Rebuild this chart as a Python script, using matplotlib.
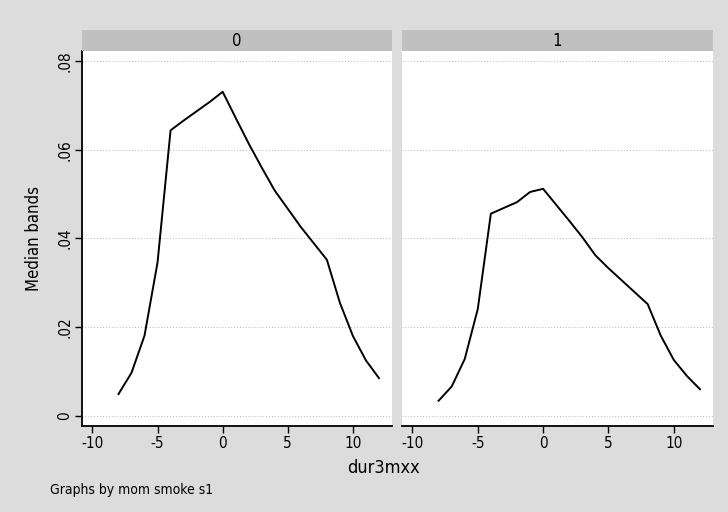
import matplotlib
matplotlib.use("Agg")
import matplotlib.pyplot as plt
from matplotlib.ticker import FuncFormatter

plt.rcParams['font.family'] = ['DejaVu Sans']
plt.rcParams['font.stretch'] = 'condensed'
plt.rcParams['axes.unicode_minus'] = False

x = [-8, -7, -6, -5, -4, -3, -2, -1, 0, 1, 2, 3, 4, 5, 6, 7, 8, 9, 10, 11, 12]
band0 = [0.0049, 0.0097, 0.0181, 0.0346, 0.0644, 0.0666, 0.0687, 0.0708, 0.0731,
         0.0672, 0.0614, 0.0560, 0.0508, 0.0467, 0.0426, 0.0389, 0.0352,
         0.0255, 0.0180, 0.0125, 0.0085]
band1 = [0.0034, 0.0066, 0.0128, 0.0241, 0.0456, 0.0469, 0.0482, 0.0505, 0.0512,
         0.0476, 0.0440, 0.0403, 0.0362, 0.0333, 0.0306, 0.0279, 0.0252,
         0.0181, 0.0126, 0.0090, 0.0060]
panels = ["0", "1"]
xticks = [-10, -5, 0, 5, 10]
yticks = [0, 0.02, 0.04, 0.06, 0.08]

W, H = 728, 512
fig = plt.figure(figsize=(W / 100, H / 100), dpi=100, facecolor='#dcdcdc')

def px(l, t, r, b):
    return [l / W, 1 - b / H, (r - l) / W, (b - t) / H]

def yfmt(v, pos):
    if abs(v) < 1e-12:
        return "0"
    return ("%.2f" % v).lstrip("0")

boxes = [(82, 392), (402, 713)]
series = [band0, band1]
for i, ((l, r), ys, name) in enumerate(zip(boxes, series, panels)):
    ax = fig.add_axes(px(l, 51, r, 426))
    ax.set_facecolor('white')
    ax.plot(x, ys, color='black', lw=1.4)
    ax.set_xlim(-10.8, 13.0)
    ax.set_ylim(-0.0023, 0.0823)
    ax.set_xticks(xticks)
    ax.set_yticks(yticks)
    ax.yaxis.set_major_formatter(FuncFormatter(yfmt))
    for yv in yticks:
        ax.axhline(yv, color='#b8b8b8', lw=0.7, ls=(0, (1, 2)), zorder=0)
    ax.spines['top'].set_visible(False)
    ax.spines['right'].set_visible(False)
    ax.spines['bottom'].set_linewidth(1.3)
    ax.tick_params(axis='x', direction='out', length=5, width=1, labelsize=11, pad=2)
    if i == 0:
        ax.spines['left'].set_linewidth(1.3)
        ax.tick_params(axis='y', direction='out', length=5, width=1, labelsize=11,
                       labelrotation=90, pad=2)
        for lab in ax.get_yticklabels():
            lab.set_va('center')
        ax.set_ylabel("Median bands", fontsize=12, labelpad=10)
    else:
        ax.spines['left'].set_visible(False)
        ax.tick_params(axis='y', left=False, labelleft=False)
    hdr = fig.add_axes(px(l, 30, r, 51))
    hdr.set_facecolor('#c0c0c0')
    hdr.set_xticks([])
    hdr.set_yticks([])
    for s in hdr.spines.values():
        s.set_visible(False)
    hdr.text(0.5, 0.5, name, ha='center', va='center', fontsize=12, transform=hdr.transAxes)

fig.text(383 / W, 1 - 468 / H, "dur3mxx", ha='center', va='center', fontsize=13)
fig.text(50 / W, 1 - 490 / H, "Graphs by mom smoke s1", ha='left', va='center', fontsize=10)

fig.savefig("out.png", dpi=100, facecolor=fig.get_facecolor())
